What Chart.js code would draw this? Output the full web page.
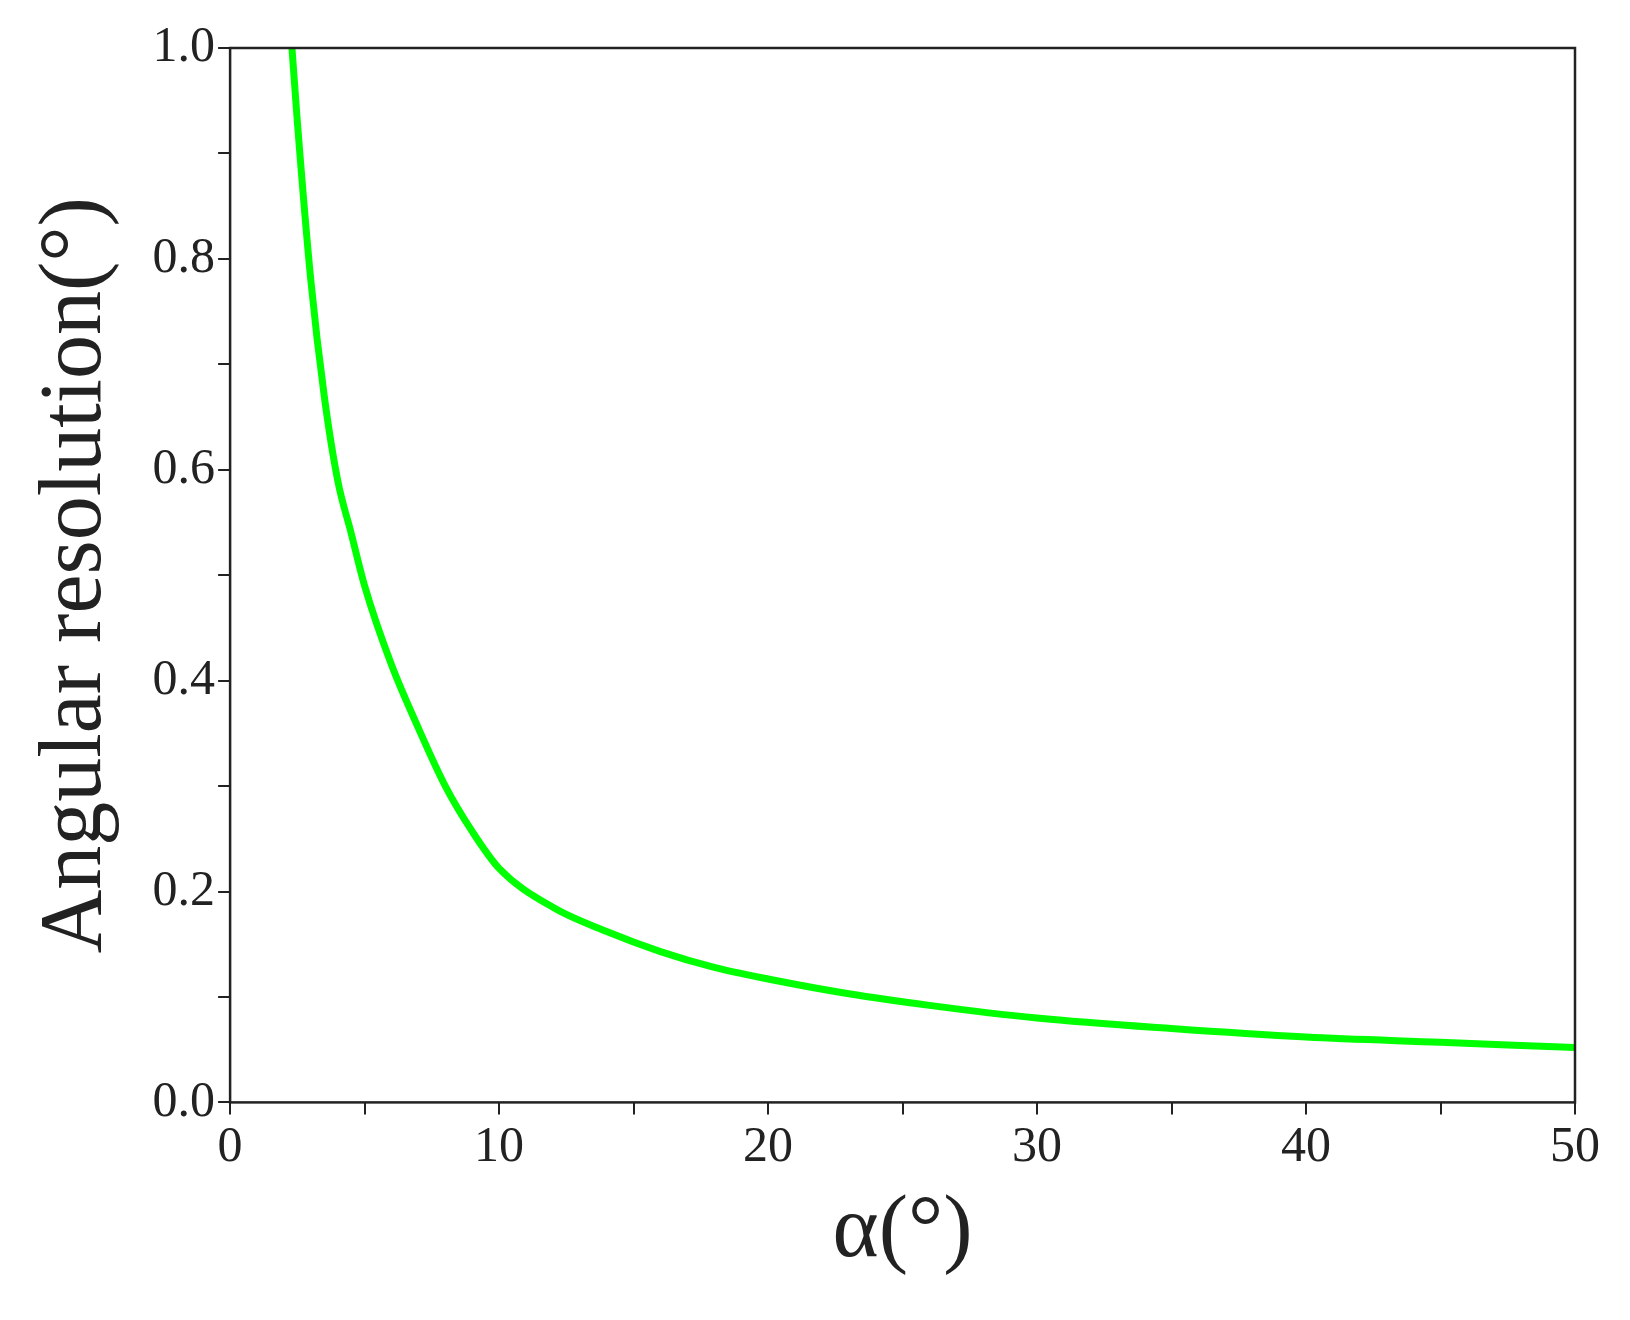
<!DOCTYPE html>
<html>
<head>
<meta charset="utf-8">
<script src="https://cdn.jsdelivr.net/npm/chart.js@4"></script>
<style>
body { margin: 0; background: #fff; }
#wrap { width: 1630px; height: 1320px; }
</style>
</head>
<body>
<div id="wrap"><canvas id="myChart"></canvas></div>
<script>
const alphaValues = [2.3, 2.5, 3, 3.5, 4, 4.5, 5, 6, 7, 8, 9, 10, 12, 14, 16, 18, 20, 23, 26, 30, 35, 40, 45, 50];
const resolutionValues = [1.0, 0.93, 0.78, 0.67, 0.59, 0.54, 0.49, 0.415, 0.355, 0.3, 0.257, 0.222, 0.185, 0.162, 0.143, 0.128, 0.117, 0.103, 0.092, 0.08, 0.07, 0.062, 0.057, 0.052];
const xTitle = 'α(°)';
const yTitle = 'Angular resolution(°)';

const frame = {
    id: 'frame',
    afterDraw(chart) {
        const a = chart.chartArea, c = chart.ctx;
        c.save();
        c.strokeStyle = '#222';
        c.lineWidth = 2.5;
        c.strokeRect(a.left, a.top, a.right - a.left, a.bottom - a.top);
        c.restore();
    }
};

const serif = 'Liberation Serif';

new Chart(document.getElementById('myChart'), {
    type: 'line',
    data: {
        datasets: [{
            data: alphaValues.map((x, i) => ({x: x, y: resolutionValues[i]})),
            borderColor: '#00ff00',
            borderWidth: 7,
            pointRadius: 0,
            cubicInterpolationMode: 'monotone'
        }]
    },
    options: {
        responsive: true,
        maintainAspectRatio: false,
        animation: false,
        layout: {padding: {top: 48, right: 55, left: 20, bottom: 30}},
        plugins: {legend: {display: false}, tooltip: {enabled: false}},
        scales: {
            x: {
                type: 'linear', min: 0, max: 50,
                border: {display: false},
                grid: {drawOnChartArea: false, tickLength: 12, color: '#222', lineWidth: 2},
                ticks: {stepSize: 5, color: '#222', font: {family: serif, size: 50},
                    callback: v => v % 10 === 0 ? v : ''},
                title: {display: true, text: xTitle, color: '#222', font: {family: serif, size: 88}, padding: {top: 0}}
            },
            y: {
                min: 0, max: 1.0,
                border: {display: false},
                grid: {drawOnChartArea: false, tickLength: 12, color: '#222', lineWidth: 2},
                ticks: {stepSize: 0.1, color: '#222', font: {family: serif, size: 50},
                    callback: v => Math.round(v * 10) % 2 === 0 ? v.toFixed(1) : ''},
                title: {display: true, text: yTitle, color: '#222', font: {family: serif, size: 88}, padding: {bottom: 20}}
            }
        }
    },
    plugins: [frame]
});
</script>
</body>
</html>
